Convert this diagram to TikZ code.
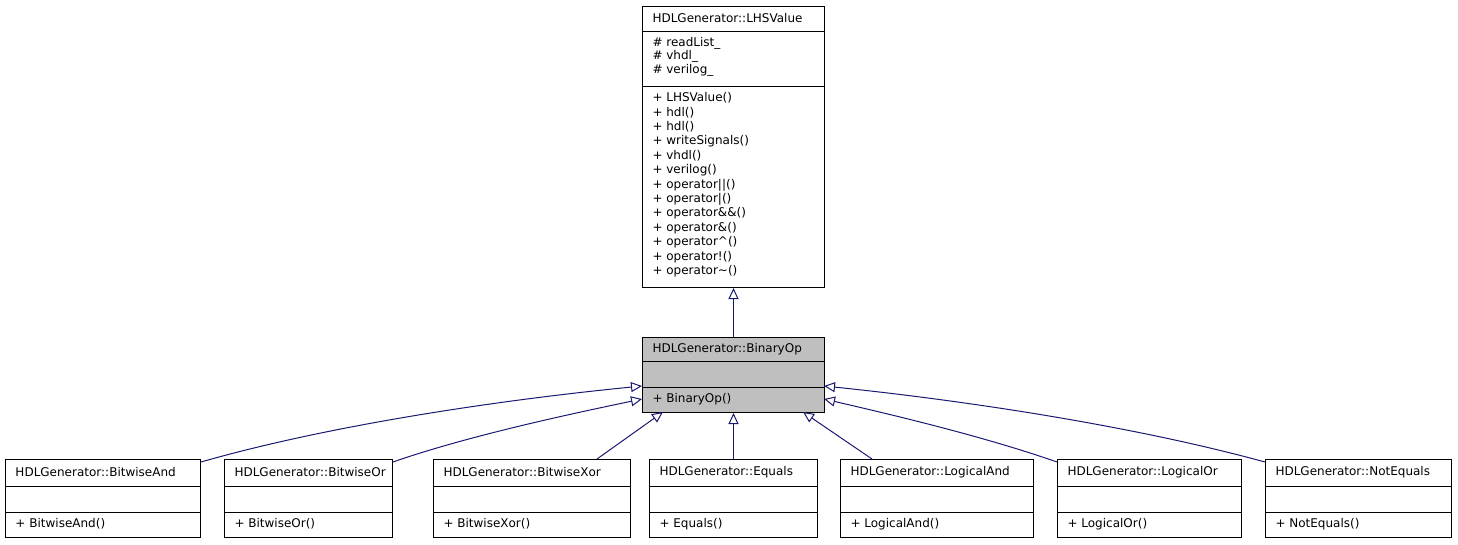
\documentclass[tikz,border=0pt]{standalone}
\usepackage{fontspec}
\setmainfont{DejaVu Sans}
\usetikzlibrary{arrows.meta,positioning}
\tikzset{
  every path/.style={line width=1pt},
  cls/.style={draw,inner sep=0pt,anchor=north west},
  txt/.style={anchor=north west,inner sep=0pt,font=\fontsize{12}{14.4}\selectfont,align=left},
  atr/.style={txt,font=\fontsize{12}{13.2}\selectfont},
  ttl/.style={anchor=west,inner sep=0pt,font=\fontsize{12}{13}\selectfont},
  inherit/.style={draw=navy,-{Triangle[open,length=11pt,width=10pt]}},
}
\definecolor{navy}{HTML}{191970}
\definecolor{hl}{HTML}{BFBFBF}
\begin{document}
\begin{tikzpicture}[x=1pt,y=-1pt]
\useasboundingbox (0,0) rectangle (1458,544);
% base class
\node[cls,minimum width=182pt,minimum height=281pt] (lhs) at (642,6) {};
\draw (642,31) -- (824,31) (642,86) -- (824,86);
\node[ttl] (lhst) at (652,18.5) {HDLGenerator::LHSValue};
\node[atr] (lhsa) at (652,37) {\# readList\_\\\# vhdl\_\\\# verilog\_};
\node[txt] (lhsm) at (652,92) {+ LHSValue()\\+ hdl()\\+ hdl()\\+ writeSignals()\\+ vhdl()\\+ verilog()\\+ operator||()\\+ operator|()\\+ operator\&\&()\\+ operator\&()\\+ operator\^{}()\\+ operator!()\\+ operator\textasciitilde()};
% binary op
\node[cls,fill=hl,minimum width=182pt,minimum height=75pt] (bin) at (642,337) {};
\draw (642,361) -- (824,361) (642,387) -- (824,387);
\node[ttl] (bint) at (652,349) {HDLGenerator::BinaryOp};
\node[txt] (binm) at (652,393) {+ BinaryOp()};
% derived classes
\foreach \nm/\xa/\xb in {BitwiseAnd/5/200,BitwiseOr/224/392,BitwiseXor/433/630,Equals/649/817,LogicalAnd/840/1033,LogicalOr/1057/1241,NotEquals/1265/1451}{
  \node[cls,minimum width=\xb pt-\xa pt,minimum height=78pt] (\nm) at (\xa,459) {};
  \draw (\xa,486) -- (\xb,486) (\xa,512) -- (\xb,512);
  \node[ttl] (\nm t) at (\xa+10,472) {HDLGenerator::\nm};
  \node[txt] (\nm m) at (\xa+10,518) {+ \nm()};
}
\coordinate (b1) at (642,386);
\coordinate (b2) at (642,399);
\coordinate (b3) at (663,412);
\coordinate (b5) at (803,412);
\coordinate (b6) at (824,399);
\coordinate (b7) at (824,386);
\draw[inherit] (bin.north) -- (lhs.south);
\draw[inherit] (BitwiseAnd.north east) ++(0,3) .. controls (330,425) and (500,400) .. (b1);
\draw[inherit] (BitwiseOr.north east) ++(0,3) .. controls (470,435) and (580,412) .. (b2);
\draw[inherit] (BitwiseXor.north) ++(65,0) -- (b3);
\draw[inherit] (Equals.north) -- (bin.south);
\draw[inherit] (LogicalAnd.north) ++(-65,0) -- (b5);
\draw[inherit] (LogicalOr.north west) ++(0,3) .. controls (980,435) and (880,412) .. (b6);
\draw[inherit] (NotEquals.north west) ++(0,3) .. controls (1130,425) and (960,400) .. (b7);
\end{tikzpicture}
\end{document}
